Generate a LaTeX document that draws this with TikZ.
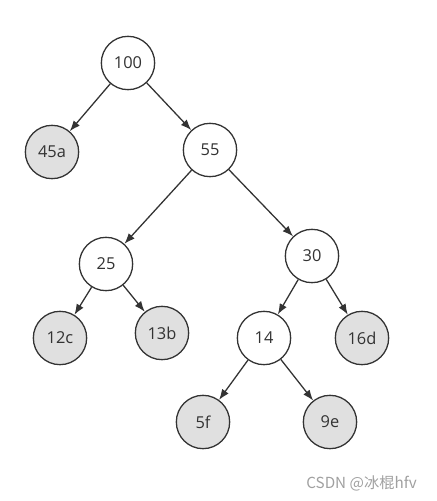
\documentclass[tikz,border=0pt]{standalone}
\usepackage{fontspec}
\setmainfont{Open Sans}
\newfontfamily\cjkfont{Noto Sans CJK SC}
\usetikzlibrary{arrows.meta}
\definecolor{htEdge}{HTML}{333333}
\definecolor{htLeaf}{HTML}{E0E0E0}
\definecolor{htMark}{HTML}{A0A0A0}

\begin{document}
\begin{tikzpicture}[
  x=0.03cm, y=-0.03cm,
  inner/.style={circle, draw=htEdge, line width=1.1pt, fill=white, minimum size=1.6cm,
                inner sep=0pt, font=\fontsize{14}{16}\selectfont, text=htEdge},
  leaf/.style={inner, fill=htLeaf},
  arr/.style={-{Latex[length=3.2mm, width=2.4mm]}, line width=1.1pt, color=htEdge}
]
\useasboundingbox (0,0) rectangle (436,501);

% inner nodes
\node[inner] (n100) at (128,63) {100};
\node[inner] (n55) at (210,150) {55};
\node[inner] (n25) at (106,264) {25};
\node[inner] (n30) at (312,256) {30};
\node[inner] (n14) at (264,338) {14};

% leaves
\node[leaf] (n45a) at (52,152) {45a};
\node[leaf] (n12c) at (60,338) {12c};
\node[leaf] (n13b) at (162,333) {13b};
\node[leaf] (n16d) at (362,338) {16d};
\node[leaf] (n5f) at (203,422) {5f};
\node[leaf] (n9e) at (330,422) {9e};

\draw[arr] (n100) -- (n45a);
\draw[arr] (n100) -- (n55);
\draw[arr] (n55) -- (n25);
\draw[arr] (n55) -- (n30);
\draw[arr] (n25) -- (n12c);
\draw[arr] (n25) -- (n13b);
\draw[arr] (n30) -- (n14);
\draw[arr] (n30) -- (n16d);
\draw[arr] (n14) -- (n5f);
\draw[arr] (n14) -- (n9e);

\node[anchor=east, text=htMark, font=\cjkfont\fontsize{13}{15}\selectfont] (mark) at (421,483) {CSDN @冰棍hfv};

\end{tikzpicture}
\end{document}
